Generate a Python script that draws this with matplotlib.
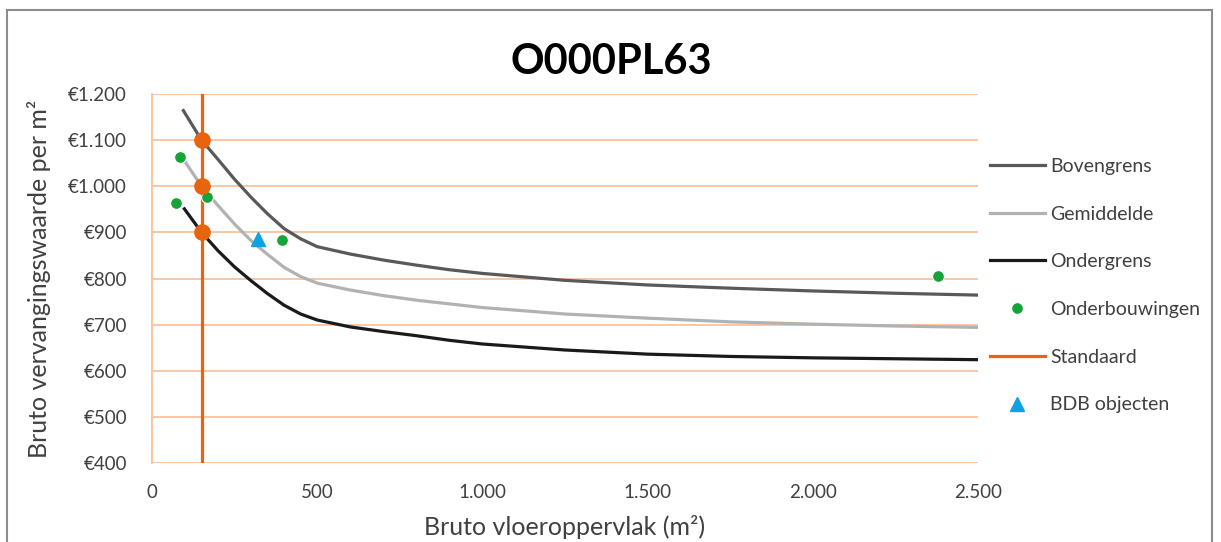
import matplotlib
matplotlib.use('Agg')

import matplotlib.pyplot as plt
from matplotlib.patches import Rectangle
from matplotlib.ticker import FuncFormatter
import numpy as np

# curve data
x_boven = [95, 150, 200, 250, 300, 350, 400, 450, 500, 600, 700, 800, 900, 1000, 1250, 1500, 1750, 2000, 2250, 2500]
y_boven = [1164, 1100, 1058, 1015, 976, 940, 908, 886, 869, 853, 840, 829, 819, 811, 796, 786, 779, 773, 768, 764]

x_gem = [100, 150, 200, 250, 300, 350, 400, 450, 500, 600, 700, 800, 900, 1000, 1250, 1500, 1750, 2000, 2250, 2500]
y_gem = [1053, 1000, 958, 918, 882, 852, 824, 804, 790, 775, 763, 753, 745, 737, 723, 714, 706, 701, 697, 694]

x_onder = [98, 150, 200, 250, 300, 350, 400, 450, 500, 600, 700, 800, 900, 1000, 1250, 1500, 1750, 2000, 2250, 2500]
y_onder = [951, 900, 860, 825, 795, 767, 742, 723, 710, 695, 685, 676, 666, 658, 645, 636, 631, 628, 626, 624]

x_onderb = [85, 73, 165, 394, 2379]
y_onderb = [1064, 963, 977, 883, 806]

x_std = [150, 150]
y_std = [400, 1200]
x_std_pts = [150, 150, 150]
y_std_pts = [1100, 1000, 900]

x_bdb = [320]
y_bdb = [886]

font = ['Lato', 'DejaVu Sans']
plt.rcParams['font.family'] = font
txt = '#404040'
grid_c = '#F8C6A4'

fig = plt.figure(figsize=(12.21, 5.42), dpi=100)
ax = fig.add_axes([152/1221, 1-463/542, (978-152)/1221, (463-94)/542])

ax.plot(x_boven, y_boven, color='#595959', lw=2.3, label='Bovengrens', zorder=3)
ax.plot(x_gem, y_gem, color='#B2B2B2', lw=2.3, label='Gemiddelde', zorder=3)
ax.plot(x_onder, y_onder, color='#1A1A1A', lw=2.3, label='Ondergrens', zorder=3)
ax.plot(x_onderb, y_onderb, 'o', color='#15A33A', ms=8.5, mec='white', mew=0.8,
        label='Onderbouwingen', zorder=5)
ax.plot(x_std, y_std, color='#E8640F', lw=2.3, label='Standaard', zorder=4)
ax.plot(x_std_pts, y_std_pts, 'o', color='#E8640F', ms=11, zorder=6)
ax.plot(x_bdb, y_bdb, '^', color='#0AA3E3', ms=10.5, label='BDB objecten', zorder=5)

ax.set_xlim(0, 2500)
ax.set_ylim(400, 1200)
ax.set_xticks(np.arange(0, 2501, 500))
ax.set_yticks(np.arange(400, 1201, 100))
ax.xaxis.set_major_formatter(FuncFormatter(lambda v, p: '{:,.0f}'.format(v).replace(',', '.')))
ax.yaxis.set_major_formatter(FuncFormatter(lambda v, p: '€' + '{:,.0f}'.format(v).replace(',', '.')))
ax.tick_params(axis='both', length=0, labelsize=13.5, colors=txt)
ax.tick_params(axis='y', pad=18)
ax.tick_params(axis='x', pad=15)
ax.grid(axis='y', color=grid_c, lw=1.4, zorder=1)
for s in ['top', 'right', 'bottom']:
    ax.spines[s].set_visible(False)
ax.spines['left'].set_color(grid_c)
ax.spines['left'].set_linewidth(1.4)

ax.set_xlabel('Bruto vloeroppervlak (m²)', fontsize=18, color=txt, labelpad=10)
ax.set_ylabel('Bruto vervangingswaarde per m²', fontsize=18, color=txt, labelpad=12)

fig.text(611/1221, 1-62/542, 'O000PL63', ha='center', va='center', fontsize=30,
         fontweight='bold', color='black')

handles, labels = ax.get_legend_handles_labels()
leg = fig.legend(handles, labels, loc='upper left', bbox_to_anchor=(982/1221, 1-150/542),
                 frameon=False, fontsize=14, handlelength=2.85, handletextpad=0.25,
                 labelspacing=1.58, borderaxespad=0)
for t in leg.get_texts():
    t.set_color(txt)

fig.patches.append(Rectangle((7/1221, -0.02), (1212-7)/1221, 1.02-10/542, transform=fig.transFigure,
                             fill=False, edgecolor='#8C8C8C', lw=1.5))

fig.savefig('out.png', dpi=100)
plt.close(fig)
